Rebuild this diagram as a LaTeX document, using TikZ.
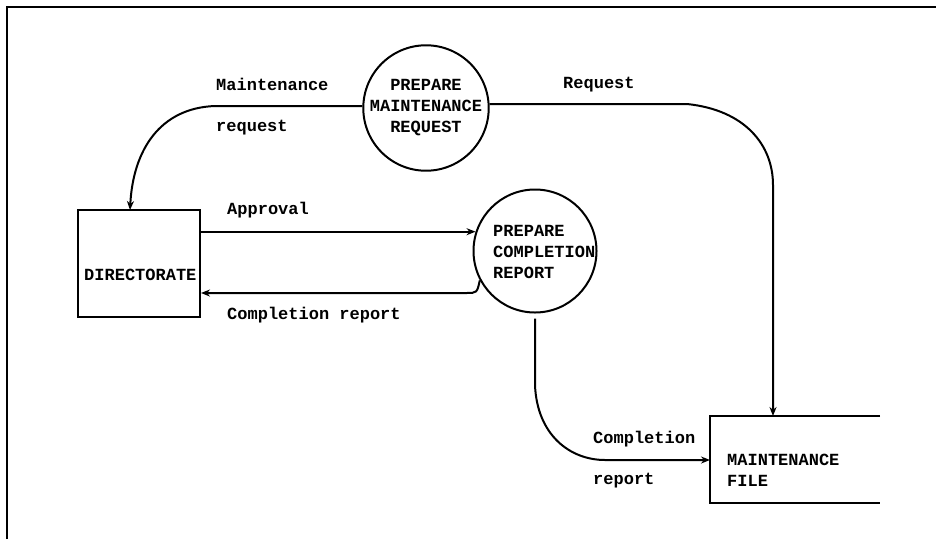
\documentclass[tikz,border=0pt]{standalone}
\usepackage{fontspec}
\setmonofont{Liberation Mono}
\usetikzlibrary{arrows.meta}

\begin{document}
\begin{tikzpicture}[x=1pt, y=-1pt,
    every node/.style={font=\ttfamily\bfseries\fontsize{17}{21}\selectfont},
    process/.style={draw, circle, line width=2pt, minimum size=123pt, inner sep=0pt, align=center},
    flowArrow/.style={draw, line width=2pt, -{Stealth[length=9pt,width=7pt]}},
    flowLabel/.style={anchor=base west, inner sep=0pt}]
    \useasboundingbox (0,0) rectangle (937,539);

    % Draw frame
    \draw[line width=1.6pt] (7,539) -- (7,7) -- (936,7);

    % Processes
    \node[process] (prepReq) at (426,108) {PREPARE\\MAINTENANCE\\REQUEST};
    \node[process] (prepComp) at (535,251) {};
    \node[align=left, anchor=west, inner sep=0pt] (prepCompText) at (493,252) {PREPARE\\COMPLETION\\REPORT};

    % Directorate
    \node[draw, line width=2pt, minimum width=122pt, minimum height=107pt] (dir) at (139,263.5) {};
    \node[flowLabel] (dirText) at (84,280) {DIRECTORATE};

    % Maintenance file (open box)
    \coordinate (fileNW) at (710,416);
    \coordinate (fileNE) at (880,416);
    \coordinate (fileSW) at (710,503);
    \coordinate (fileSE) at (880,503);
    \draw[line width=2pt] (fileNE) -- (fileNW) -- (fileSW) -- (fileSE);
    \node[align=left, anchor=west, inner sep=0pt] (mFile) at (727,470) {MAINTENANCE\\FILE};

    % Maintenance request to directorate
    \coordinate (dirTop) at (130,210);
    \draw[flowArrow] (prepReq.west |- 0,106) -- (215,106) .. controls (160,108) and (133,150) .. (dirTop);

    % Request to maintenance file
    \coordinate (fileTop) at (773,416);
    \draw[flowArrow] (prepReq.east |- 0,104) -- (687,104) .. controls (745,110) and (773,145) .. (773,185) -- (fileTop);

    % Approval and completion report
    \draw[flowArrow] (dir.east |- prepComp.162) -- (prepComp.162);
    \draw[flowArrow] (prepComp.208) .. controls (477,293) .. (466,293) -- (dir.east |- 0,293);

    % Completion report to maintenance file
    \coordinate (fileIn) at (fileSW |- 0,460);
    \draw[flowArrow, shorten <=5pt] (prepComp.south) -- (535,385) .. controls (537,435) and (570,460) .. (605,460) -- (fileIn);

    % Flow labels
    \node[flowLabel] (lblMaint) at (216,90) {Maintenance};
    \node[flowLabel] (lblMaintReq) at (216,131) {request};
    \node[flowLabel] (lblReq) at (563,88) {Request};
    \node[flowLabel] (lblAppr) at (227,214) {Approval};
    \node[flowLabel] (lblCompRep) at (227,319) {Completion report};
    \node[flowLabel] (lblComp) at (593,443) {Completion};
    \node[flowLabel] (lblRep) at (593,484) {report};
\end{tikzpicture}
\end{document}
